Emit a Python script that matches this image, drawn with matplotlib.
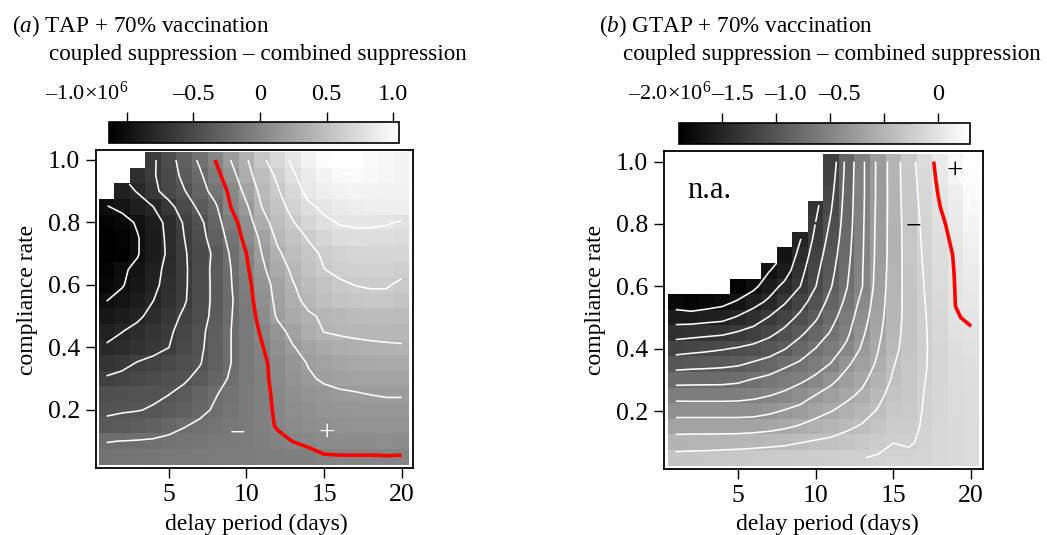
import numpy as np
import matplotlib
matplotlib.use("Agg")
import matplotlib.pyplot as plt
from matplotlib import transforms

plt.rcParams['font.family'] = ['Liberation Serif', 'DejaVu Serif']
plt.rcParams['mathtext.fontset'] = 'custom'
plt.rcParams['mathtext.rm'] = 'Liberation Serif'
plt.rcParams['mathtext.it'] = 'Liberation Serif:italic'

# ---------------- data ----------------
delay_days = list(range(1, 21))
compliance = [0.05, 0.10, 0.15, 0.20, 0.25, 0.30, 0.35, 0.40, 0.45, 0.50,
              0.55, 0.60, 0.65, 0.70, 0.75, 0.80, 0.85, 0.90, 0.95, 1.00]
N = None

# (a) TAP + 70% vaccination: coupled - combined suppression, units of 1e5
# one row per compliance rate (0.05 ... 1.00), columns = delay 1..20 days
tap_diff = [
    [-1.5, -1.4, -1.3, -1.2, -1.1, -1.0, -0.9, -0.8, -0.7, -0.65, -0.6, -0.55, -0.5, -0.45, -0.1, -0.07, -0.07, -0.07, -0.05, -0.07],
    [-2.05, -1.98, -1.9, -1.8, -1.6, -1.4, -1.3, -1.1, -0.9, -0.7, -0.5, -0.25, 0.02, 0.3, 0.5, 0.6, 0.6, 0.6, 0.7, 0.6],
    [-3.7, -3.6, -3.4, -3.1, -2.6, -2.1, -1.7, -1.4, -1.1, -0.8, -0.4, 0.1, 0.5, 0.8, 1.0, 1.1, 1.2, 1.2, 1.2, 1.2],
    [-4.2, -4.1, -4.05, -3.9, -3.6, -3.2, -2.4, -1.8, -1.3, -0.9, -0.4, 0.2, 0.7, 1.0, 1.3, 1.4, 1.5, 1.5, 1.6, 1.6],
    [-4.6, -4.5, -4.4, -4.2, -4.02, -3.6, -2.9, -2.1, -1.5, -0.9, -0.4, 0.3, 0.9, 1.3, 1.6, 1.8, 1.9, 2.02, 2.1, 2.1],
    [-5.8, -5.5, -5.2, -4.9, -4.5, -4.2, -3.6, -2.7, -1.8, -1.0, -0.4, 0.5, 1.2, 1.8, 2.2, 2.4, 2.5, 2.6, 2.7, 2.7],
    [-6.9, -6.5, -5.9, -5.5, -5.1, -4.6, -4.1, -3.1, -2.02, -1.0, -0.3, 0.5, 1.4, 2.1, 2.5, 2.8, 3.0, 3.1, 3.2, 3.2],
    [-7.8, -7.5, -7.0, -6.6, -6.02, -5.1, -4.3, -3.2, -2.02, -0.9, -0.1, 1.0, 1.9, 2.6, 3.1, 3.4, 3.6, 3.7, 3.8, 3.9],
    [-8.5, -8.02, -7.5, -6.9, -6.3, -5.3, -4.4, -3.3, -2.02, -0.9, 0.2, 1.4, 2.5, 3.4, 4.02, 4.2, 4.3, 4.4, 4.4, 4.3],
    [-9.3, -8.9, -8.3, -7.5, -6.7, -5.7, -4.7, -3.5, -2.1, -0.9, 0.6, 2.2, 3.2, 3.8, 4.2, 4.4, 4.6, 4.7, 4.7, 4.7],
    [-10.02, -9.6, -8.9, -8.02, -7.2, -6.2, -4.8, -3.6, -2.2, -0.8, 1.0, 2.4, 3.6, 4.4, 5.0, 5.4, 5.6, 5.7, 5.7, 5.4],
    [-10.7, -10.1, -9.4, -8.4, -7.4, -6.3, -4.8, -3.6, -2.1, -0.6, 1.2, 2.6, 3.9, 4.7, 5.3, 5.8, 6.02, 6.1, 6.1, 5.8],
    [-10.9, -10.2, -9.7, -8.6, -7.5, -6.3, -4.9, -3.5, -2.02, -0.3, 1.6, 3.2, 4.3, 5.2, 5.98, 6.3, 6.4, 6.5, 6.5, 6.3],
    [-11.3, -11.1, -10.1, -9.02, -7.7, -6.2, -5.02, -3.6, -1.8, -0.02, 2.02, 3.7, 4.8, 5.6, 6.2, 6.6, 6.8, 6.9, 6.9, 6.9],
    [-11.2, -11.0, -10.1, -9.02, -7.6, -6.02, -4.7, -3.1, -1.4, 0.6, 2.4, 4.3, 5.3, 6.1, 6.9, 7.5, 7.6, 7.6, 7.6, 7.4],
    [-11.0, -10.6, -9.8, -8.8, -7.5, -5.8, -4.4, -2.8, -0.8, 1.0, 3.3, 4.8, 5.9, 6.9, 7.7, 8.1, 8.2, 8.2, 8.1, 7.9],
    [-10.1, -9.6, -8.7, -8.02, -6.6, -5.02, -3.6, -2.3, 0.02, 1.7, 4.02, 5.3, 6.6, 7.7, 8.3, 8.7, 8.9, 9.02, 9.02, 9.02],
    [N, -8.6, -7.9, -6.5, -5.2, -4.1, -2.8, -1.3, 0.4, 2.6, 4.5, 5.8, 7.2, 8.5, 9.02, 9.3, 9.5, 9.4, 9.3, 9.3],
    [N, N, -7.3, -6.2, -5.02, -3.5, -2.3, -0.7, 1.2, 3.4, 4.9, 6.3, 7.8, 8.8, 9.5, 9.9, 9.98, 9.8, 9.6, 9.4],
    [N, N, N, -6.3, -4.7, -3.2, -1.7, 0.02, 2.02, 3.8, 5.6, 7.1, 8.3, 9.3, 10.1, 10.4, 10.3, 9.9, 9.7, 9.5],
]

# (b) GTAP + 70% vaccination: coupled - combined suppression, units of 1e5
gtap_diff = [
    [-3.3, -3.2, -3.13, -3.0, -2.9, -2.8, -2.7, -2.6, -2.5, -2.4, -2.3, -2.2, -2.04, -1.85, -1.6, -1.7, -1.6, -1.2, -1.05, -0.85],
    [-5.1, -5.04, -5.02, -4.98, -4.92, -4.78, -4.62, -4.42, -4.07, -3.79, -3.62, -3.25, -2.92, -2.52, -2.03, -2.15, -1.75, -1.3, -1.05, -0.8],
    [-6.9, -6.89, -6.89, -6.89, -6.89, -6.8, -6.6, -6.26, -5.82, -5.3, -4.81, -4.32, -3.81, -3.19, -2.47, -2.45, -1.8, -1.35, -1.0, -0.75],
    [-8.8, -8.8, -8.8, -8.8, -8.8, -8.73, -8.37, -7.87, -7.38, -6.66, -6.05, -5.4, -4.72, -3.87, -2.9, -2.66, -1.88, -1.38, -0.95, -0.7],
    [-10.7, -10.73, -10.73, -10.73, -10.67, -10.43, -10.06, -9.59, -8.9, -7.95, -7.19, -6.4, -5.63, -4.49, -3.34, -2.85, -1.95, -1.4, -0.9, -0.65],
    [-12.7, -12.63, -12.6, -12.57, -12.37, -11.88, -11.44, -10.97, -10.35, -9.57, -8.46, -7.31, -6.4, -5.1, -3.77, -3.0, -2.05, -1.42, -0.8, -0.55],
    [-14.8, -14.64, -14.54, -14.41, -14.2, -13.7, -13.2, -12.35, -11.7, -10.83, -9.89, -8.31, -7.07, -5.72, -4.1, -3.15, -2.12, -1.42, -0.7, -0.45],
    [-16.8, -16.57, -16.37, -16.13, -15.84, -15.45, -14.94, -14.09, -13.05, -11.96, -10.87, -9.61, -7.73, -6.1, -4.45, -3.25, -2.15, -1.4, -0.55, -0.3],
    [-18.85, -18.67, -18.47, -18.29, -17.8, -17.26, -16.46, -15.51, -14.36, -13.16, -11.81, -10.41, -8.33, -6.45, -4.65, -3.3, -2.14, -1.35, -0.3, -0.08],
    [-20.96, -21.0, -20.77, -20.57, -19.8, -18.98, -17.91, -16.87, -15.57, -14.26, -12.62, -11.0, -8.89, -6.74, -4.81, -3.32, -2.1, -1.28, -0.05, 0.1],
    [-23.0, -23.5, -23.05, -22.6, -21.76, -20.69, -19.65, -18.19, -16.78, -15.13, -13.38, -11.58, -9.44, -6.95, -4.9, -3.3, -2.05, -1.08, 0.02, 0.35],
    [N, N, N, N, -23.6, -22.5, -20.89, -19.52, -18.03, -16.05, -14.08, -12.1, -10.05, -7.18, -4.95, -3.27, -1.97, -0.9, 0.05, 0.6],
    [N, N, N, N, N, N, -22.1, -20.9, -18.67, -16.49, -14.49, -12.35, -10.1, -7.3, -5.0, -3.2, -1.88, -0.78, 0.09, 0.8],
    [N, N, N, N, N, N, N, -21.9, -19.33, -16.97, -14.89, -12.6, -10.2, -7.4, -5.06, -3.15, -1.78, -0.67, 0.15, 1.1],
    [N, N, N, N, N, N, N, N, -20.1, -17.46, -15.3, -12.8, -10.25, -7.45, -5.05, -3.12, -1.68, -0.5, 0.35, 1.4],
    [N, N, N, N, N, N, N, N, N, -17.94, -15.7, -13.0, -10.3, -7.5, -5.05, -3.1, -1.57, -0.33, 0.6, 1.7],
    [N, N, N, N, N, N, N, N, N, -18.4, -16.1, -13.1, -10.35, -7.55, -5.05, -3.0, -1.45, -0.05, 0.9, 2.05],
    [N, N, N, N, N, N, N, N, N, N, -16.5, -13.2, -10.4, -7.6, -5.03, -2.9, -1.31, 0.23, 1.2, 2.25],
    [N, N, N, N, N, N, N, N, N, N, -16.9, -13.3, -10.4, -7.6, -5.0, -2.85, -1.12, 0.45, 1.8, 2.6],
    [N, N, N, N, N, N, N, N, N, N, -17.3, -13.4, -10.4, -7.63, -5.0, -2.77, -0.93, 0.62, 2.05, 2.85],
]

x_ticks = [5, 10, 15, 20]
y_ticks = [0.2, 0.4, 0.6, 0.8, 1.0]
y_ticklabels = ["0.2", "0.4", "0.6", "0.8", "1.0"]

tap_range = (-11.325, 10.45)
gtap_range = (-23.92, 2.92)
tap_levels = [-10, -8, -6, -4, -2, 2, 4, 6, 8, 10]
gtap_levels = [-22, -20, -18, -16, -14, -12, -10, -8, -6, -4, -2, 2]
tap_cb_ticks = [-10, -5, 0, 5, 10]
tap_cb_labels = ["–1.0×10$^{6}$", "–0.5", "0", "0.5", "1.0"]
tap_cb_label_at = [-9.9, -5, 0, 5, 10]
gtap_cb_ticks = [-20, -15, -10, -5, 0]
gtap_cb_labels = ["–2.0×10$^{6}$", "–1.5", "–1.0", "–0.5", "0"]
gtap_cb_label_at = [-20.9, -19.0, -14.08, -9.16, 0]

# ---------------- figure ----------------
W, H = 1047, 535
fig = plt.figure(figsize=(W / 100, H / 100), dpi=100)


def fx(px):
    return px / W


def fy(py):
    return 1 - py / H


TICK_FS = 18.5
CB_FS = 17.5
CB_FIRST_FS = 16
LAB_FS = 17
TITLE_FS = 16.7


def panel(ax, cax, Z, vr, levels, cbt, cbl, cbat, xlim, ylim):
    Zm = np.ma.masked_invalid(np.array(Z, dtype=float))
    mesh = ax.pcolormesh(delay_days, compliance, Zm, cmap='gray',
                         vmin=vr[0], vmax=vr[1], shading='nearest')
    ax.contour(delay_days, compliance, Zm, levels=levels,
               colors='white', linewidths=1.15, linestyles='solid')
    ax.contour(delay_days, compliance, Zm, levels=[0],
               colors='red', linewidths=2.6, linestyles='solid')
    ax.set_xlim(*xlim)
    ax.set_ylim(*ylim)
    ax.set_xticks(x_ticks)
    ax.set_xticklabels([str(t) for t in x_ticks])
    ax.set_yticks(y_ticks)
    ax.set_yticklabels(y_ticklabels)
    ax.tick_params(direction='out', length=7.5, width=1.0,
                   labelsize=TICK_FS, pad=4)
    for s in ax.spines.values():
        s.set_linewidth(1.3)
    cb = fig.colorbar(mesh, cax=cax, orientation='horizontal')
    cax.xaxis.set_ticks_position('top')
    cb.set_ticks(cbt)
    cb.set_ticklabels([''] * len(cbt))
    cax.tick_params(axis='x', direction='out', length=7.5, width=1.0)
    cb.outline.set_linewidth(1.2)
    tr = transforms.blended_transform_factory(cax.transData, fig.transFigure)
    for i, (lab, at) in enumerate(zip(cbl, cbat)):
        cax.text(at, fy(100), lab, transform=tr,
                 fontsize=CB_FIRST_FS if i == 0 else CB_FS,
                 ha='right' if i == 0 else 'center', va='baseline')
    return mesh


axA = fig.add_axes([fx(96), fy(468), fx(317), 318 / H])
axB = fig.add_axes([fx(664), fy(469), fx(319), 318.3 / H])
caxA = fig.add_axes([fx(109), fy(142.7), fx(290.3), 21 / H])
caxB = fig.add_axes([fx(679), fy(144), fx(291), 21.3 / H])

panel(axA, caxA, tap_diff, tap_range, tap_levels, tap_cb_ticks, tap_cb_labels,
      tap_cb_label_at, (0.32, 20.73), (0.014, 1.032))
panel(axB, caxB, gtap_diff, gtap_range, gtap_levels, gtap_cb_ticks, gtap_cb_labels,
      gtap_cb_label_at, (0.245, 20.77), (0.014, 1.035))

# titles
fig.text(fx(12), fy(32), "($\\mathit{a}$) TAP + 70% vaccination", fontsize=TITLE_FS, va='baseline')
fig.text(fx(49), fy(60), "coupled suppression – combined suppression", fontsize=TITLE_FS, va='baseline')
fig.text(fx(599), fy(32), "($\\mathit{b}$) GTAP + 70% vaccination", fontsize=TITLE_FS, va='baseline')
fig.text(fx(623), fy(60), "coupled suppression – combined suppression", fontsize=TITLE_FS, va='baseline')

# axis labels
for xc in (256, 827):
    fig.text(fx(xc), fy(530), "delay period (days)", fontsize=LAB_FS, ha='center', va='baseline')
for xc in (28, 595):
    fig.text(fx(xc), fy(300), "compliance rate", fontsize=LAB_FS, ha='center', va='center', rotation=90)

# annotations
axA.text(9.43, 0.124, "\u2212", color='white', fontsize=20, ha='center', va='center')
axA.text(15.2, 0.126, "+", color='white', fontsize=21, ha='center', va='center')
axB.text(16.28, 0.79, "\u2212", color='black', fontsize=20, ha='center', va='center')
axB.text(18.94, 0.969, "+", color='black', fontsize=21, ha='center', va='center')
axB.text(1.73, 0.883, "n.a.", color='black', fontsize=22, ha='left', va='baseline')

fig.savefig("out.png", dpi=100)
